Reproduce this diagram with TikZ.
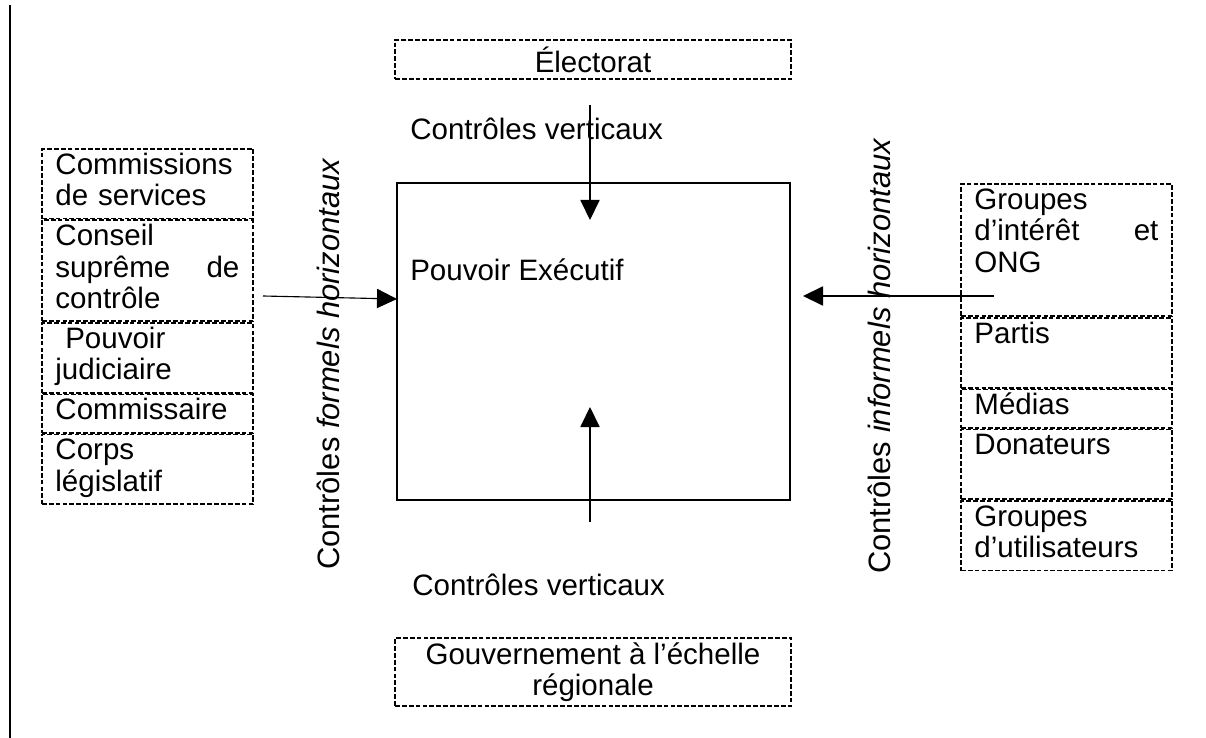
\documentclass[tikz,border=0pt]{standalone}
\usepackage{fontspec}
\setmainfont{Liberation Sans}
\usepackage{tikz}
\usetikzlibrary{arrows.meta,positioning}
\newcommand{\diagfont}{\fontsize{21pt}{22.3pt}\selectfont}
\newcommand{\sidefont}{\fontsize{22pt}{24pt}\selectfont}

\begin{document}
\begin{tikzpicture}[
    dashbox/.style={draw,line width=1.2pt,dash pattern=on 3.4pt off 1.5pt},
    row/.style={dashbox,text width=4.6cm,inner xsep=0.34cm,inner ysep=2.5pt,align=left,font=\diagfont,
      execute at begin node=\strut,execute at end node=\strut},
    ctrl/.style={-{Triangle[length=0.5cm,width=0.48cm]},line width=0.8pt},
    lbl/.style={font=\diagfont,inner sep=0pt}]
  \useasboundingbox (0,0) rectangle (30.15,-18.45);
  \draw[line width=1.4pt] (0.25,-0.125) -- (0.25,-18.45);

  % executive in the middle
  \node[draw,line width=1.2pt,minimum width=9.825cm,minimum height=7.925cm,inner sep=0pt] (exec) at (14.8375,-8.5375) {};
  \node[lbl,anchor=base west] (pe) at (10.25,-7.025) {Pouvoir Exécutif};

  % vertical controls
  \node[dashbox,font=\diagfont,minimum width=9.9cm,minimum height=0.975cm,inner sep=0pt] (elect) at (14.825,-1.4875) {Électorat};
  \node[lbl,anchor=base west] (cvTop) at (10.25,-3.5) {Contrôles verticaux};
  \node[lbl,anchor=base west] (cvBot) at (10.3,-14.875) {Contrôles verticaux};
  \node[dashbox,font=\diagfont,align=center,minimum width=9.9cm,minimum height=1.7cm,inner sep=0pt] (regio) at (14.825,-16.8) {Gouvernement à l’échelle\\régionale};
  \coordinate (vTopS) at (14.75,-2.625);
  \coordinate (vTopE) at (14.75,-5.5);
  \coordinate (vBotS) at (14.75,-13.05);
  \coordinate (vBotE) at (14.75,-10.175);
  \draw[ctrl] (vTopS) -- (vTopE);
  \draw[ctrl] (vBotS) -- (vBotE);

  % formal horizontal controls
  \node[row,anchor=north west] (fc1) at (1.025,-3.7) {Commissions\\de services};
  \node[row,below=0pt of fc1] (fc2) {Conseil\\suprême\hfill de\\contrôle};
  \node[row,below=0pt of fc2] (fc3) {\ Pouvoir\\judiciaire};
  \node[row,below=0pt of fc3] (fc4) {Commissaire};
  \node[row,below=0pt of fc4] (fc5) {Corps\\législatif};
  \node[lbl,font=\sidefont,rotate=90] (frmLbl) at (8.2,-9.1) {Contrôles \textit{formels horizontaux}};
  \coordinate (hLS) at (6.575,-7.4);
  \coordinate (hLE) at (9.925,-7.475);
  \draw[ctrl] (hLS) -- (hLE);

  % informal horizontal controls
  \node[row,anchor=north west] (ic1) at (24.0,-4.575) {Groupes\\d’intérêt\hfill et\\ONG\\};
  \node[row,below=0pt of ic1] (ic2) {Partis\\};
  \node[row,below=0pt of ic2] (ic3) {Médias};
  \node[row,below=0pt of ic3] (ic4) {Donateurs\\};
  \node[row,below=0pt of ic4] (ic5) {Groupes\\d’utilisateurs};
  \node[lbl,font=\sidefont,rotate=90] (infLbl) at (21.975,-8.9) {Contrôles \textit{informels horizontaux}};
  \coordinate (hRS) at (24.85,-7.4);
  \coordinate (hRE) at (20.075,-7.4);
  \draw[ctrl] (hRS) -- (hRE);
\end{tikzpicture}
\end{document}
